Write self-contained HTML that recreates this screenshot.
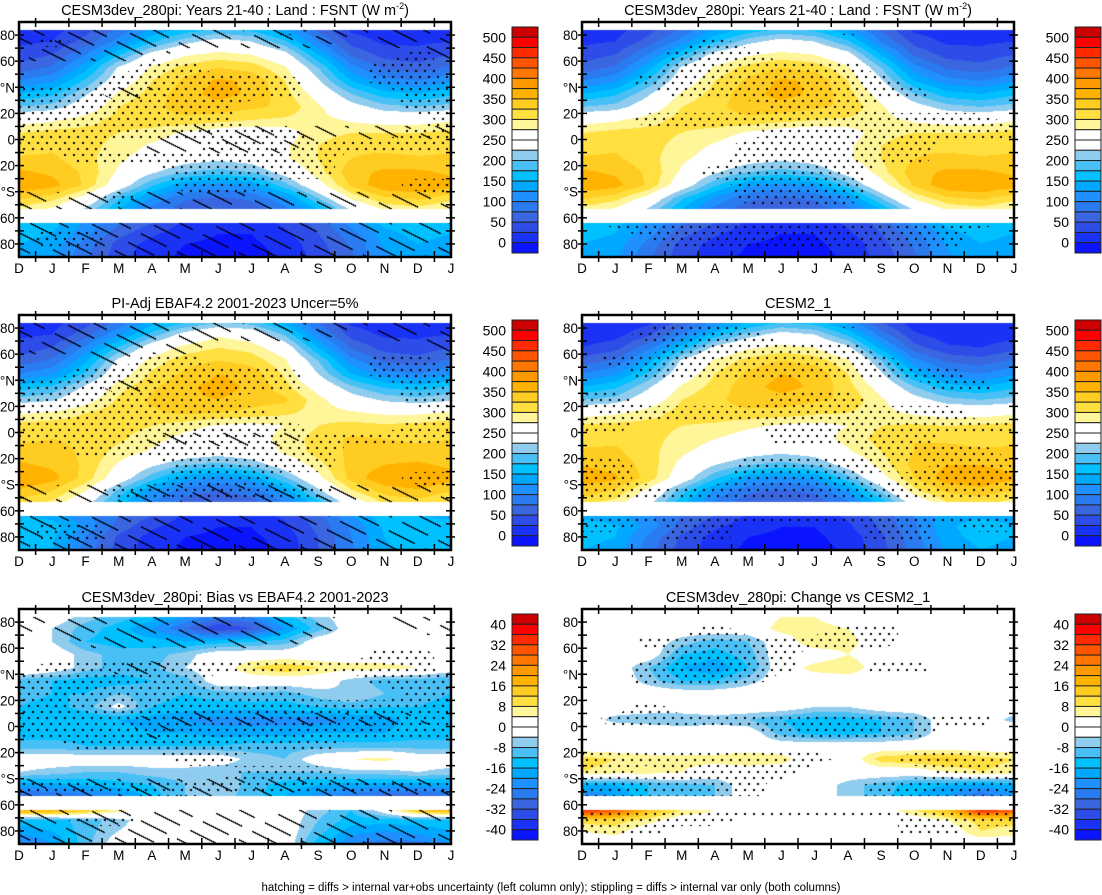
<!DOCTYPE html>
<html><head><meta charset="utf-8">
<style>
html,body{margin:0;padding:0;background:#fff;}
#wrap{position:relative;width:1102px;height:895px;overflow:hidden;font-family:"Liberation Sans",Arial,sans-serif;}
canvas{position:absolute;}
svg{position:absolute;left:0;top:0;}
</style></head>
<body>
<div id="wrap">
<svg id="ov" width="1102" height="895"></svg>
</div>
<script>
// ---------- data ----------
const months = ["D","J","F","M","A","M","J","J","A","S","O","N","D","J"];
const lats = [84,75,65,55,45,35,25,15,5,-5,-15,-25,-35,-45,-53.5,-64,-72,-80,-90];
const latTickLabels = ["80","60","\u00B0N","20","0","20","\u00B0S","60","80"];
const latTickValues = [80,60,40,20,0,-20,-40,-60,-80];
const fsntLabels = ["500","450","400","350","300","250","200","150","100","50","0"];
const diffLabels = ["40","32","24","16","8","0","-8","-16","-24","-32","-40"];
const fsntLevels = [0,25,50,75,100,125,150,175,200,225,250,275,300,325,350,375,400,425,450,475,500];
const diffLevels = [-40,-36,-32,-28,-24,-20,-16,-12,-8,-4,0,4,8,12,16,20,24,28,32,36,40];

const modelFSNT = [
[10,15,40,80,130,160,180,170,130,70,20,10,10,15],
[20,25,60,110,170,215,240,225,180,100,40,20,20,25],
[35,50,100,170,240,270,285,275,240,150,70,40,35,50],
[60,80,140,230,280,310,325,315,280,200,110,70,60,80],
[100,120,180,250,300,330,355,345,300,230,150,110,100,120],
[150,170,220,280,310,340,360,345,310,260,200,160,150,170],
[200,210,250,300,320,335,340,330,320,280,240,210,200,210],
[260,270,290,310,315,320,310,300,295,285,270,260,260,270],
[300,310,310,300,290,270,255,250,260,290,300,300,300,310],
[310,320,310,290,270,250,240,245,270,300,320,315,310,320],
[330,330,310,280,260,240,230,240,270,300,325,335,330,330],
[355,345,320,270,230,200,190,200,240,290,340,355,355,345],
[370,360,320,250,180,130,115,130,190,260,330,370,375,360],
[330,310,260,180,120,80,70,80,120,200,280,320,330,310],
[290,270,220,150,90,60,50,60,90,150,230,280,290,270],
[175,160,120,80,50,20,10,10,30,60,110,160,175,160],
[160,150,110,60,30,10,0,0,20,50,90,140,160,150],
[150,140,90,40,15,0,-5,-5,10,40,80,130,150,140],
[140,130,80,35,10,-5,-10,-10,5,35,70,120,140,130]];

const obsFSNT = [
[10,15,40,85,140,175,200,190,140,75,20,10,10,15],
[20,25,65,120,185,240,270,255,195,105,40,20,20,25],
[35,50,105,180,250,285,300,290,250,150,70,40,35,50],
[60,80,145,235,285,315,325,315,280,200,110,70,60,80],
[100,120,180,255,305,330,350,340,295,225,150,110,100,120],
[160,180,230,290,320,345,360,345,310,260,205,170,160,180],
[210,220,260,305,330,345,350,340,330,285,245,220,210,220],
[270,280,300,315,320,330,325,315,305,290,280,270,270,280],
[310,315,315,310,300,285,270,265,275,300,310,305,310,315],
[320,325,320,305,285,265,255,260,285,310,330,325,320,325],
[335,335,320,290,270,250,240,250,280,310,330,340,335,335],
[355,345,320,270,230,200,190,205,245,290,335,350,355,345],
[375,360,315,250,185,135,120,135,195,265,335,370,375,360],
[345,325,275,190,125,85,72,85,130,215,295,335,345,325],
[315,295,240,165,100,65,55,65,100,165,250,305,315,295],
[155,140,105,75,50,20,10,10,30,65,120,170,155,140],
[175,165,120,65,30,10,0,0,20,58,105,155,175,165],
[170,155,100,45,15,0,-5,-5,10,50,100,150,170,155],
[165,150,90,40,10,-5,-10,-10,5,50,95,145,165,150]];

const cesm2FSNT = [
[5,5,20,60,110,150,175,165,120,50,10,5,5,5],
[10,15,45,100,160,210,240,225,170,90,30,10,10,15],
[25,40,90,160,235,270,285,275,235,140,60,30,25,40],
[60,80,140,230,280,310,325,315,280,200,110,70,60,80],
[100,120,180,250,300,330,350,345,300,230,150,110,100,120],
[150,170,220,280,310,340,360,345,310,260,200,160,150,170],
[200,210,250,300,320,335,340,330,320,280,240,210,200,210],
[260,270,290,310,315,320,315,305,300,285,270,260,260,270],
[305,310,310,300,295,280,270,265,275,300,305,300,305,310],
[315,320,310,290,275,260,255,260,285,310,325,320,315,320],
[330,330,310,280,260,240,230,240,270,300,325,335,330,330],
[350,340,315,265,225,200,190,200,240,285,335,350,350,340],
[365,355,315,250,180,130,115,130,190,260,325,365,370,355],
[340,320,265,185,120,80,70,80,125,205,290,330,340,320],
[310,290,235,160,95,60,50,60,95,160,245,300,310,290],
[145,135,105,75,50,20,10,10,30,60,100,140,145,135],
[165,155,115,65,30,10,0,0,20,55,95,145,165,155],
[160,150,95,45,15,0,-5,-5,10,45,90,140,160,150],
[150,140,85,40,10,-5,-10,-10,5,40,85,130,150,140]];

const biasVsObs = [
[0,0,-6,-10,-14,-20,-26,-24,-14,-6,0,0,0,0],
[0,-4,-10,-14,-20,-28,-36,-32,-20,-10,0,0,0,-4],
[0,-4,-12,-14,-14,-16,-14,-12,-10,0,0,0,0,-4],
[0,0,-6,-10,-10,-6,0,0,0,0,0,0,0,0],
[4,0,-6,-10,-9,-4,0,8,12,8,6,6,4,0],
[-10,-12,-14,-14,-12,-10,0,0,0,0,-6,-10,-10,-12],
[-10,-12,-12,-8,-10,-12,-10,-9,-10,-6,-4,-8,-10,-12],
[-12,-14,-10,-2,-12,-14,-14,-14,-14,-12,-10,-12,-12,-14],
[-14,-16,-16,-16,-18,-20,-22,-22,-22,-22,-20,-18,-14,-16],
[-14,-14,-14,-14,-16,-16,-18,-18,-18,-16,-16,-16,-14,-14],
[-10,-10,-12,-12,-12,-12,-12,-10,-10,-10,-10,-10,-10,-10],
[0,0,0,0,0,0,0,-6,-8,0,4,6,0,0],
[-4,-6,-8,-8,-6,-6,-8,-8,-8,-8,-6,-6,-4,-6],
[-18,-18,-16,-14,-12,-8,-4,-10,-14,-16,-18,-18,-18,-18],
[-30,-28,-26,-22,-14,-8,-6,-10,-16,-22,-26,-30,-30,-28],
[20,20,14,6,0,0,0,0,0,-6,-12,0,16,20],
[-14,-14,-10,-6,0,0,0,0,0,-8,-14,-14,-14,-14],
[-18,-16,-10,-4,0,0,0,0,0,-10,-18,-20,-18,-16],
[-26,-20,-10,0,0,0,0,0,0,-14,-24,-26,-26,-20]];

const changeVsCesm2 = [
[0,0,0,0,0,0,4,4,0,0,0,0,0,0],
[0,0,0,0,0,0,6,6,4,0,0,0,0,0],
[0,0,0,-6,-10,-8,0,8,6,0,0,0,0,0],
[0,0,0,-12,-14,-10,0,0,4,0,0,0,0,0],
[0,0,-8,-16,-20,-12,0,6,8,0,0,0,0,0],
[0,0,-6,-12,-12,-6,0,0,0,0,0,0,0,0],
[0,0,0,0,0,0,0,0,0,0,0,0,0,0],
[0,0,0,0,0,0,0,-4,-4,0,0,0,0,0],
[0,-6,-8,-8,-6,-8,-12,-14,-14,-12,-8,0,0,-6],
[4,4,4,0,0,0,-10,-14,-14,-12,-8,0,4,4],
[0,0,0,0,0,0,0,0,0,0,0,0,0,0],
[10,8,6,6,6,8,6,0,0,10,12,14,10,8],
[8,6,6,4,0,0,0,0,0,0,0,4,8,6],
[-16,-16,-12,-10,-8,0,0,0,-6,-10,-14,-16,-18,-16],
[-24,-20,-12,-10,-8,0,0,0,-6,-10,-16,-20,-28,-20],
[36,30,16,8,4,0,0,0,0,0,8,16,36,30],
[10,10,6,0,0,0,0,0,0,0,0,4,10,10],
[4,6,0,0,0,0,0,0,0,0,0,0,8,6],
[0,0,0,0,0,0,0,0,0,0,0,0,0,0]];

// significance masks (1 = significant), one string per latitude row
const hatchP1 = ["11111111111111","11111111110111","11111000000001","00000000000000","00000000000000","00011000000000","00000000000000","00000000000000","00000111111111","00001111100000","00000000000000","00000000000000","00000000000000","11111111111111","11111111111111","11111111111111","11111111111111","11111111111111","11111111111111"];
const stipP1 = ["00000000100000","01000000000000","00000000000010","00001100000110","00011111100111","11111111100011","11111110000011","11111110000001","11111111100011","11100011111111","00111111110000","00000111110000","00000111000011","00010000000000","00000000000000","00000000000000","01100000000000","01100000000000","00000000000000"];
const stipP2 = ["00000000100000","00001000000000","00011100000000","00011111100000","00111111110000","00011111111000","00000011100000","00111111111110","00000011111111","00000111111000","00000111111000","00001111100000","00000111100000","00000111100000","00000000000000","01111111111110","00111111111100","00011111111100","00000000000000"];
const hatchP3 = ["11111111111111","11111111110111","11111100000001","00010000000000","00000000000000","00011000000000","00000000000000","00000000000000","00000000000000","00001111100000","00000000000000","00000000000000","00000000000000","11111111111111","11111111111111","11111111111111","11111111111111","11111111111111","11111111111111"];
const stipP3 = ["00000000000000","00000000000000","00000000000000","00001100000110","00111111100111","11111111100011","11111110000011","11111111000001","11111111100011","11111111111111","00111111110000","00000111110000","00000111000011","00011111110000","00000000000000","00000000000000","01100000000000","01100000000000","00000000000000"];
const stipP4 = ["00011000100000","00111100000000","00011111100000","01111111110000","00111111111100","00000000000110","11000011100000","01111111111100","11000011111111","00000011111000","00000000011110","11000111110111","11000111101111","11111111111111","00000000000000","11111111111111","11011000011011","00011000011000","00000000000000"];
const hatchP5 = ["11111111110111","11111111110011","00111111100000","00000000000000","00011000000000","00000000000000","00000000000000","00000000000000","00001111111110","00001000000000","00000000000000","00000000000000","00000000000000","11111111111111","11111111111111","11111111111111","11111111111111","11111111111111","11111111111111"];
const stipP5 = ["00000000000000","00000000000000","00000000000000","00000000000110","01111111111110","11111100000111","11111111100011","11111111111111","11111111111111","11111111111111","00111111110000","00000110000000","00000001110000","11111111111111","00001100000000","00000000000000","00110000000000","00000000000000","00000000000000"];
const stipP6 = ["00000000000000","00001000110000","00111111110000","00011110000000","00111110011000","00111100000000","00000000000000","00100000000000","01111111111110","00000011111000","00000000000000","11111111001111","11011110000111","11111100011111","11111100011111","11111111111111","11111000001111","11100000001100","00000000000000"];

const colors = ["#cc0000","#ff0000","#ff2a00","#ff5500","#ff7700","#ff9900","#ffb300","#ffcc22","#ffe040","#fff599","#ffffff","#ffffff","#90ccee","#48c0f5","#00c0ff","#00a8ff","#1e90ff","#2a7af0","#3a66e0","#2e4ce8","#1a32f5","#0a14ff"];

// ---------- layout ----------
const W = 432, H = 235;
const panels = [
 {name:"model-panel",x:19,y:22,title:"CESM3dev_280pi: Years 21-40 : Land : FSNT (W m",sup:"-2",data:modelFSNT,levels:fsntLevels,labels:fsntLabels,hatch:hatchP1,stip:stipP1,cb:512},
 {name:"model-panel-right",x:582,y:22,title:"CESM3dev_280pi: Years 21-40 : Land : FSNT (W m",sup:"-2",data:modelFSNT,levels:fsntLevels,labels:fsntLabels,hatch:null,stip:stipP2,cb:1075},
 {name:"obs-panel",x:19,y:315,title:"PI-Adj EBAF4.2 2001-2023 Uncer=5%",data:obsFSNT,levels:fsntLevels,labels:fsntLabels,hatch:hatchP3,stip:stipP3,cb:512},
 {name:"cesm2-panel",x:582,y:315,title:"CESM2_1",data:cesm2FSNT,levels:fsntLevels,labels:fsntLabels,hatch:null,stip:stipP4,cb:1075},
 {name:"bias-panel",x:19,y:609,title:"CESM3dev_280pi: Bias vs EBAF4.2 2001-2023",data:biasVsObs,levels:diffLevels,labels:diffLabels,hatch:hatchP5,stip:stipP5,cb:512},
 {name:"change-panel",x:582,y:609,title:"CESM3dev_280pi: Change vs CESM2_1",data:changeVsCesm2,levels:diffLevels,labels:diffLabels,hatch:null,stip:stipP6,cb:1075}
];

function yOfLat(p,lat){return p.y + (90-lat)*H/180;}
function xOfMonth(p,m){return p.x + m*W/13;}

function latRow(lat){
  if(lat>84||lat<-90) return null;
  if(lat<-53.5&&lat>-64) return null;
  for(let i=0;i<lats.length-1;i++){
    if(lat<=lats[i]&&lat>=lats[i+1]){
      return [i,(lats[i]-lat)/(lats[i]-lats[i+1])];
    }
  }
  return null;
}
function interp(grid,get,ri,fr,c){
  const c0=Math.min(12,Math.floor(c)), fc=c-c0;
  const a=get(grid,ri,c0),b=get(grid,ri,c0+1),d=get(grid,ri+1,c0),e=get(grid,ri+1,c0+1);
  return (a*(1-fc)+b*fc)*(1-fr)+(d*(1-fc)+e*fc)*fr;
}
const getNum=(g,r,c)=>g[r][c];
const getMask=(g,r,c)=>g[r].charCodeAt(c)-48;

function hexRGB(h){return [parseInt(h.substr(1,2),16),parseInt(h.substr(3,2),16),parseInt(h.substr(5,2),16)];}
const rgb = colors.map(hexRGB);

const wrap=document.getElementById('wrap');
panels.forEach(p=>{
  const cv=document.createElement('canvas');
  cv.width=W;cv.height=H;
  cv.style.left=p.x+'px';cv.style.top=p.y+'px';
  
  
  wrap.insertBefore(cv,wrap.firstChild);
  const ctx=cv.getContext('2d');
  const img=ctx.createImageData(W,H);
  for(let py=0;py<H;py++){
    const lat=90-(py+0.5)*180/H;
    const lr=latRow(lat);
    for(let px=0;px<W;px++){
      const k=(py*W+px)*4;
      let col=[255,255,255];
      if(lr){
        const c=(px+0.5)/W*13;
        const v=interp(p.data,getNum,lr[0],lr[1],c);
        let bin=0; for(const L of p.levels){ if(v>=L) bin++; }
        col=rgb[21-bin];
        let black=false;
        if(p.stip){
          const s=interp(p.stip,getMask,lr[0],lr[1],c);
          const r=Math.floor(py/6);
          if(s>0.5 && py%6<2 && (px+(r%2)*5)%9<2) black=true;
        }
        if(p.hatch){
          const h=interp(p.hatch,getMask,lr[0],lr[1],c);
          if(h>0.5){
            const u=py-px*0.5;
            const m=((u%15)+15)%15;
            const li=Math.floor(u/15);
            if(m<1.5 && (((px+li*13)%36)+36)%36<26) black=true;
          }
        }
        if(black) col=[0,0,0];
      }
      img.data[k]=col[0];img.data[k+1]=col[1];img.data[k+2]=col[2];img.data[k+3]=255;
    }
  }
  ctx.putImageData(img,0,0);
});

// ---------- axes / labels ----------
const NS="http://www.w3.org/2000/svg";
const ov=document.getElementById('ov');
function mk(tag,attrs,parent){const e=document.createElementNS(NS,tag);for(const k in attrs)e.setAttribute(k,attrs[k]);(parent||ov).appendChild(e);return e;}

panels.forEach(p=>{
  const g=mk('g',{});
  
  
  const t=mk('text',{x:p.x+W/2,y:p.y-7,'text-anchor':'middle','font-size':'14.5'},g);
  
  
  t.textContent=p.title;
  if(p.sup){
    const s=mk('tspan',{dy:'-6','font-size':'9'},t); s.textContent=p.sup;
    const s2=mk('tspan',{dy:'6'},t); s2.textContent=")";
  }
  for(let lat=-80;lat<=80;lat+=10){
    const y=yOfLat(p,lat);
    mk('line',{x1:p.x-4,x2:p.x+5,y1:y,y2:y,stroke:'#000','stroke-width':1.5},g);
    mk('line',{x1:p.x+W-5,x2:p.x+W+4,y1:y,y2:y,stroke:'#000','stroke-width':1.5},g);
  }
  latTickValues.forEach((lv,i)=>{
    const tx=mk('text',{x:p.x-4,y:yOfLat(p,lv)+5,'text-anchor':'end','font-size':'13.5'},g);
    
    
    tx.textContent=latTickLabels[i];
  });
  months.forEach((m,i)=>{
    const tx=mk('text',{x:xOfMonth(p,i),y:p.y+H+16,'text-anchor':'middle','font-size':'13.5'},g);
    
    
    tx.textContent=m;
    if(i<13){
      const xm=xOfMonth(p,i+0.5);
      mk('line',{x1:xm,x2:xm,y1:p.y+H-6,y2:p.y+H+5,stroke:'#000','stroke-width':1.5},g);
      mk('line',{x1:xm,x2:xm,y1:p.y+5,y2:p.y-4,stroke:'#000','stroke-width':1.5},g);
    }
  });
  const b=mk('rect',{x:p.x,y:p.y,width:W,height:H,fill:'none',stroke:'#000','stroke-width':2.5},g);
  
  
  const cg=mk('g',{},g);
  
  
  const cy0=p.y+5, bh=226/22;
  colors.forEach((c,i)=>{
    const r=mk('rect',{x:p.cb,y:cy0+i*bh,width:26,height:bh,fill:c,stroke:'#222','stroke-width':1},cg);
    
    
  });
  p.labels.forEach((l,i)=>{
    const tx=mk('text',{x:p.cb-6,y:cy0+(1+2*i)*bh+5,'text-anchor':'end','font-size':'14'},cg);
    
    
    tx.textContent=l;
  });
});
const ft=mk('text',{x:551,y:891,'text-anchor':'middle','font-size':'11.5'});


ft.textContent="hatching = diffs > internal var+obs uncertainty (left column only); stippling = diffs > internal var only (both columns)";
</script>
</body></html>
